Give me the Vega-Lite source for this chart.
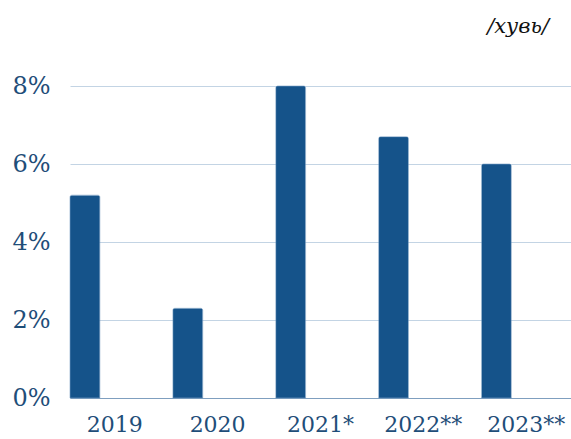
{
  "$schema": "https://vega.github.io/schema/vega-lite/v6.json",
  "width": 501,
  "height": 312,
  "autosize": {"type": "none"},
  "padding": {"left": 70, "top": 86, "right": 0, "bottom": 41},
  "background": "white",
  "title": {
    "text": "/хувь/",
    "anchor": "end",
    "orient": "top",
    "font": "DejaVu Serif",
    "fontSize": 21,
    "fontStyle": "italic",
    "fontWeight": "normal",
    "color": "#111111",
    "offset": 37,
    "dx": -22
  },
  "data": {
    "values": [
      {"year": "2019", "series": "a", "value": 0.052},
      {"year": "2020", "series": "a", "value": 0.023},
      {"year": "2021*", "series": "a", "value": 0.080},
      {"year": "2022**", "series": "a", "value": 0.067},
      {"year": "2023**", "series": "a", "value": 0.060}
    ]
  },
  "mark": {"type": "bar", "color": "#15538a", "cornerRadiusTopLeft": 2, "cornerRadiusTopRight": 2, "stroke": "#5f8bb4", "strokeWidth": 0.5},
  "encoding": {
    "x": {
      "field": "year",
      "type": "nominal",
      "sort": null,
      "scale": {"paddingInner": 0.13, "paddingOuter": 0},
      "axis": {
        "title": null,
        "labelAngle": 0,
        "labelFont": "DejaVu Serif",
        "labelFontSize": 22,
        "labelColor": "#1f4e79",
        "labelPadding": 16,
        "ticks": false,
        "domainColor": "#7f9fbf",
        "domainWidth": 1.2
      }
    },
    "xOffset": {
      "field": "series",
      "type": "nominal",
      "scale": {"domain": ["a", "b", "c"], "paddingInner": 0, "paddingOuter": 0}
    },
    "y": {
      "field": "value",
      "type": "quantitative",
      "scale": {"domain": [0, 0.08], "nice": false},
      "axis": {
        "title": null,
        "format": ".0%",
        "values": [0, 0.02, 0.04, 0.06, 0.08],
        "labelFont": "DejaVu Serif",
        "labelFontSize": 24,
        "labelColor": "#1f4e79",
        "labelPadding": 20,
        "ticks": false,
        "domain": false,
        "grid": true,
        "gridColor": "#c3d4e4",
        "gridWidth": 1
      }
    }
  },
  "config": {"view": {"stroke": null}}
}
